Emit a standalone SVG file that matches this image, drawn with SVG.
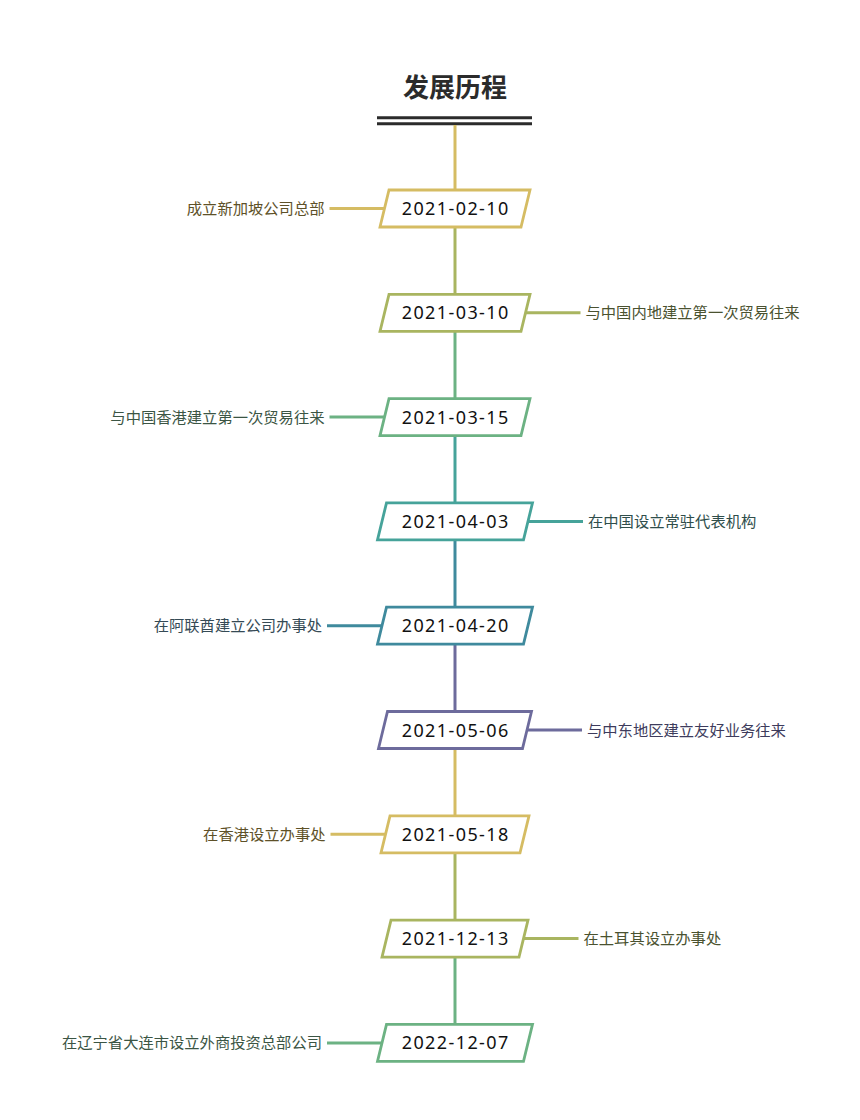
<svg xmlns="http://www.w3.org/2000/svg" width="860" height="1120" viewBox="0 0 860 1120">
<style>
.bg{fill:#ffffff}
.title{font-family:"Noto Sans CJK SC","Noto Sans",sans-serif;font-size:26px;font-weight:bold;fill:#2b2b2b;text-anchor:middle}
.date{font-family:"Noto Sans","Liberation Sans",sans-serif;font-size:18px;fill:#111111;text-anchor:middle;letter-spacing:1.4px}
.lbl{font-family:"Noto Sans CJK SC","Noto Sans",sans-serif;font-size:15.3px}
.l{text-anchor:end}
.r{text-anchor:start}
.box{fill:#ffffff;stroke-width:2.8;stroke-linejoin:miter}
.ln{stroke-width:3;fill:none}
.gold{stroke:#d5bc63}
.olive{stroke:#a9b560}
.green{stroke:#6cb283}
.teal{stroke:#46a39a}
.blue{stroke:#3f8a9d}
.purple{stroke:#6d6b9c}
.tgold{fill:#5e5128}
.tolive{fill:#4a5230}
.tgreen{fill:#3b5544}
.tteal{fill:#2f4e4b}
.tblue{fill:#354a55}
.tpurple{fill:#3d3b5c}
</style>
<rect class="bg" x="0" y="0" width="860" height="1120"/>
<g id="title">
<text class="title" x="455" y="96.5">发展历程</text>
<line x1="377" y1="117.7" x2="532" y2="117.7" stroke="#2b2b2b" stroke-width="3"/>
<line x1="377" y1="123.7" x2="532" y2="123.7" stroke="#2b2b2b" stroke-width="3"/>
</g>
<g id="connectors">
<line class="ln gold" x1="455" y1="125" x2="455" y2="190"/>
<line class="ln olive" x1="455" y1="227" x2="455" y2="294.3"/>
<line class="ln green" x1="455" y1="331.3" x2="455" y2="398.6"/>
<line class="ln teal" x1="455" y1="435.6" x2="455" y2="502.9"/>
<line class="ln blue" x1="455" y1="539.9" x2="455" y2="607.2"/>
<line class="ln purple" x1="455" y1="644.2" x2="455" y2="711.5"/>
<line class="ln gold" x1="455" y1="748.5" x2="455" y2="815.8"/>
<line class="ln olive" x1="455" y1="852.8" x2="455" y2="920.1"/>
<line class="ln green" x1="455" y1="957.1" x2="455" y2="1024.4"/>
<line class="ln gold" x1="384.5" y1="208.5" x2="329.5" y2="208.5"/>
<line class="ln olive" x1="525.5" y1="312.8" x2="580.5" y2="312.8"/>
<line class="ln green" x1="384.5" y1="417.1" x2="329.5" y2="417.1"/>
<line class="ln teal" x1="528" y1="521.4" x2="583" y2="521.4"/>
<line class="ln blue" x1="382" y1="625.7" x2="327" y2="625.7"/>
<line class="ln purple" x1="527" y1="730" x2="582" y2="730"/>
<line class="ln gold" x1="385.5" y1="834.3" x2="330.5" y2="834.3"/>
<line class="ln olive" x1="523.5" y1="938.6" x2="578.5" y2="938.6"/>
<line class="ln green" x1="382" y1="1042.9" x2="327" y2="1042.9"/>
</g>
<g id="node1">
<polygon class="box gold" points="389,190 530,190 521,227 380,227"/>
<text class="date" x="455.7" y="215">2021-02-10</text>
<text class="lbl l tgold" x="324.5" y="214">成立新加坡公司总部</text>
</g>
<g id="node2">
<polygon class="box olive" points="389,294.3 530,294.3 521,331.3 380,331.3"/>
<text class="date" x="455.7" y="319.3">2021-03-10</text>
<text class="lbl r tolive" x="585.5" y="318.3">与中国内地建立第一次贸易往来</text>
</g>
<g id="node3">
<polygon class="box green" points="389,398.6 530,398.6 521,435.6 380,435.6"/>
<text class="date" x="455.7" y="423.6">2021-03-15</text>
<text class="lbl l tgreen" x="324.5" y="422.6">与中国香港建立第一次贸易往来</text>
</g>
<g id="node4">
<polygon class="box teal" points="386.5,502.9 532.5,502.9 523.5,539.9 377.5,539.9"/>
<text class="date" x="455.7" y="527.9">2021-04-03</text>
<text class="lbl r tteal" x="588" y="526.9">在中国设立常驻代表机构</text>
</g>
<g id="node5">
<polygon class="box blue" points="386.5,607.2 532.5,607.2 523.5,644.2 377.5,644.2"/>
<text class="date" x="455.7" y="632.2">2021-04-20</text>
<text class="lbl l tblue" x="322" y="631.2">在阿联酋建立公司办事处</text>
</g>
<g id="node6">
<polygon class="box purple" points="387.5,711.5 531.5,711.5 522.5,748.5 378.5,748.5"/>
<text class="date" x="455.7" y="736.5">2021-05-06</text>
<text class="lbl r tpurple" x="587" y="735.5">与中东地区建立友好业务往来</text>
</g>
<g id="node7">
<polygon class="box gold" points="390,815.8 529,815.8 520,852.8 381,852.8"/>
<text class="date" x="455.7" y="840.8">2021-05-18</text>
<text class="lbl l tgold" x="325.5" y="839.8">在香港设立办事处</text>
</g>
<g id="node8">
<polygon class="box olive" points="391,920.1 528,920.1 519,957.1 382,957.1"/>
<text class="date" x="455.7" y="945.1">2021-12-13</text>
<text class="lbl r tolive" x="583.5" y="944.1">在土耳其设立办事处</text>
</g>
<g id="node9">
<polygon class="box green" points="386.5,1024.4 532.5,1024.4 523.5,1061.4 377.5,1061.4"/>
<text class="date" x="455.7" y="1049.4">2022-12-07</text>
<text class="lbl l tgreen" x="322" y="1048.4">在辽宁省大连市设立外商投资总部公司</text>
</g>
</svg>
